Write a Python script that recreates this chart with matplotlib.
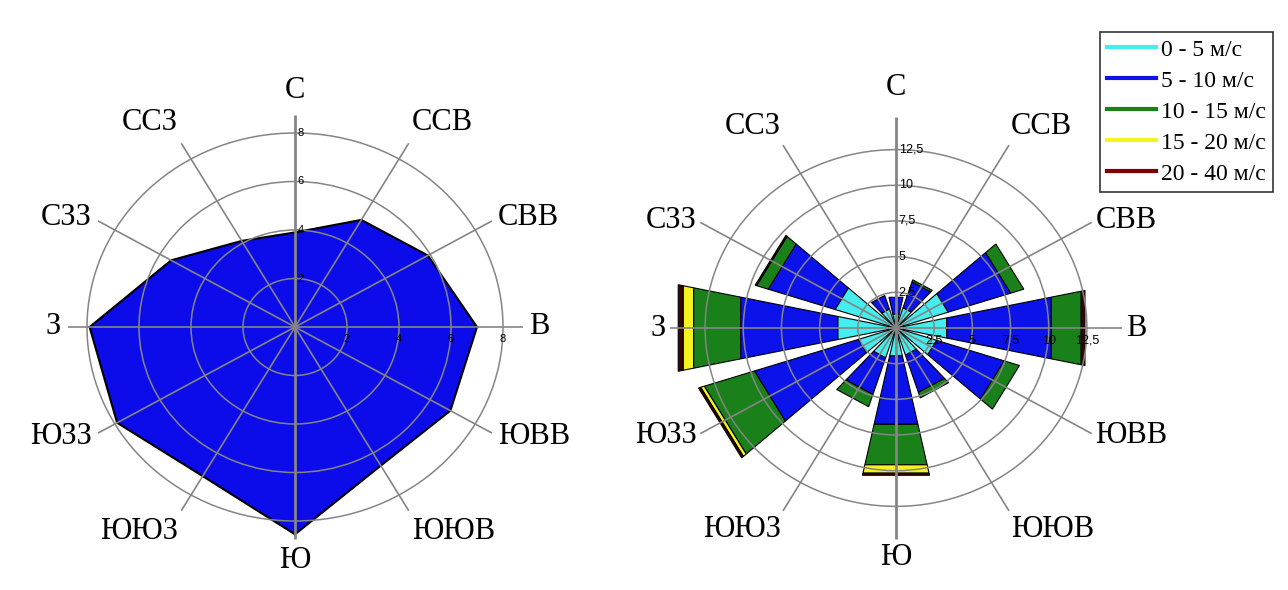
import numpy as np
import matplotlib

matplotlib.use("Agg")

import matplotlib.pyplot as plt
from matplotlib.lines import Line2D

# wind directions, clockwise from north
directions = ["С", "ССВ", "СВВ", "В", "ЮВВ", "ЮЮВ", "Ю", "ЮЮЗ", "ЮЗЗ", "З", "СЗЗ", "ССЗ"]
angles_deg = [0, 30, 60, 90, 120, 150, 180, 210, 240, 270, 300, 330]

# left chart: single value per direction
left_values = [3.9, 5.1, 5.9, 7.0, 6.9, 6.6, 8.55, 7.1, 7.9, 7.9, 5.5, 4.1]
left_rings = [2, 4, 6, 8]
left_ring_labels = ["2", "4", "6", "8"]

# right chart: wind rose, segment lengths per speed class
speed_classes = ["0 - 5 м/с", "5 - 10 м/с", "10 - 15 м/с", "15 - 20 м/с", "20 - 40 м/с"]
speed_0_5 = [1.0, 1.5, 3.6, 3.4, 2.8, 2.0, 2.0, 2.2, 2.6, 3.9, 4.2, 1.4]
speed_5_10 = [1.2, 1.9, 4.3, 7.0, 4.65, 2.75, 4.9, 2.7, 7.15, 6.5, 4.6, 1.0]
speed_10_15 = [0.0, 0.15, 0.9, 2.0, 1.05, 0.4, 2.9, 0.9, 3.45, 3.15, 0.8, 0.0]
speed_15_20 = [0.0, 0.0, 0.0, 0.0, 0.0, 0.0, 0.6, 0.0, 0.25, 0.7, 0.0, 0.0]
speed_20_40 = [0.0, 0.0, 0.0, 0.25, 0.0, 0.0, 0.15, 0.0, 0.15, 0.33, 0.1, 0.0]
right_rings = [2.5, 5, 7.5, 10, 12.5]
right_ring_labels = ["2,5", "5", "7,5", "10", "12,5"]

bar_colors = ["#45eeee", "#0c12ea", "#19801a", "#f6f420", "#3a0404"]
legend_colors = ["#45eeee", "#0c12ea", "#19801a", "#f6f420", "#800000"]
GRID = "#858585"
SERIF = "Liberation Serif"
SANS = "Liberation Sans"

W, H = 1288, 590
fig = plt.figure(figsize=(W / 100, H / 100), dpi=100)
fig.patch.set_facecolor("white")


def make_axes(cx, cy, rmax, px_x, px_y):
    half_w = rmax * px_x
    half_h = rmax * px_y
    rect = [(cx - half_w) / W, (H - cy - half_h) / H, 2 * half_w / W, 2 * half_h / H]
    ax = fig.add_axes(rect, projection="polar")
    ax.set_aspect("auto")
    ax.set_theta_zero_location("N")
    ax.set_theta_direction(-1)
    ax.set_ylim(0, rmax)
    ax.set_xticks([])
    ax.spines["polar"].set_visible(False)
    ax.patch.set_alpha(0)
    ax.set_axisbelow(False)
    return ax


def style_rings(ax, rings):
    ax.set_yticks(rings)
    ax.set_yticklabels([])
    ax.yaxis.grid(True, color=GRID, linewidth=1.1)


def draw_spokes(ax, r_end):
    for ang in angles_deg:
        lw = 2.0 if ang % 180 == 0 else 1.2
        ax.plot([np.deg2rad(ang)] * 2, [0, r_end], color=GRID, lw=lw, zorder=3,
                solid_capstyle="butt")


def draw_direction_labels(ax, r_end, pad, extra_top):
    for ang, name in zip(angles_deg, directions):
        s, c = np.sin(np.deg2rad(ang)), np.cos(np.deg2rad(ang))
        ha = "center" if abs(s) < 0.1 else ("left" if s > 0 else "right")
        va = "center" if abs(c) < 0.6 else ("bottom" if c > 0 else "top")
        dy = pad * c + (extra_top if ang == 0 else 0)
        ax.annotate(name, xy=(np.deg2rad(ang), r_end), xytext=(pad * s, dy),
                    textcoords="offset points", ha=ha, va=va, fontsize=22,
                    family=SERIF, zorder=6, annotation_clip=False)


def draw_ring_labels(ax, rings, labels, size):
    for r, lab in zip(rings, labels):
        ax.annotate(lab, xy=(0, r), xytext=(2, 0), textcoords="offset points",
                    ha="left", va="center", fontsize=size, family=SANS, zorder=5)
        ax.annotate(lab, xy=(np.pi / 2, r), xytext=(0, -9), textcoords="offset points",
                    ha="center", va="center", fontsize=size, family=SANS, zorder=5)


# ---- left chart
axl = make_axes(295, 327, 9.5, 26.0, 24.25)
style_rings(axl, left_rings)
theta = np.deg2rad(angles_deg)
axl.fill(theta, left_values, facecolor="#0c0cea", edgecolor="black", lw=1.5, zorder=1)
draw_spokes(axl, 8.75)
draw_ring_labels(axl, left_rings, left_ring_labels, 8)
draw_direction_labels(axl, 8.75, 5, 2)

# ---- right chart
axr = make_axes(896, 328, 15.5, 15.27, 14.27)
style_rings(axr, right_rings)
half = np.deg2rad(12)
segments = [speed_0_5, speed_5_10, speed_10_15, speed_15_20, speed_20_40]
base = np.zeros(len(directions))
for seg, col in zip(segments, bar_colors):
    seg = np.asarray(seg)
    for i, ang in enumerate(theta):
        if seg[i] <= 0:
            continue
        r0, r1 = base[i], base[i] + seg[i]
        axr.fill([ang - half, ang + half, ang + half, ang - half], [r0, r0, r1, r1],
                 facecolor=col, edgecolor="black", lw=0.8, zorder=1)
    base = base + seg
draw_spokes(axr, 14.8)
draw_ring_labels(axr, right_rings, right_ring_labels, 9)
draw_direction_labels(axr, 14.8, 3, 8)

# ---- legend
handles = [Line2D([], [], color=c, lw=3) for c in legend_colors]
leg = fig.legend(handles, speed_classes, loc="upper right",
                 bbox_to_anchor=(1273 / W, 1 - 32 / H), frameon=True, fancybox=False,
                 edgecolor="black", prop={"family": SERIF, "size": 17},
                 handlelength=2.1, handletextpad=0.2, borderpad=0.3,
                 labelspacing=0.4, borderaxespad=0)
leg.get_frame().set_linewidth(1.2)

fig.savefig("out.png", dpi=100, facecolor="white")
